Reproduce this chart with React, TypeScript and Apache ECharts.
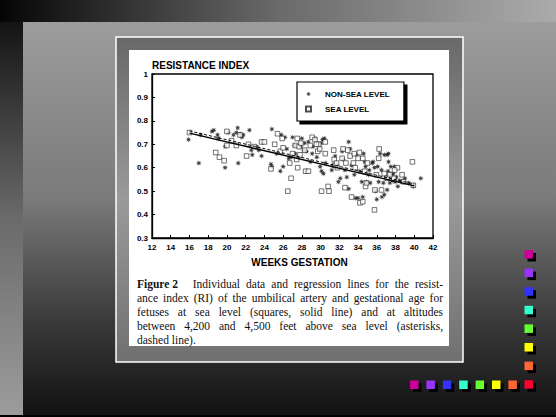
import { useEffect, useRef } from "react";
import * as echarts from "echarts";

// tick labels
const weekTicks = [12, 14, 16, 18, 20, 22, 24, 26, 28, 30, 32, 34, 36, 38, 40, 42];
const riTicks = [0.3, 0.4, 0.5, 0.6, 0.7, 0.8, 0.9, 1];

const legendNames = ["NON-SEA LEVEL", "SEA LEVEL"];

// [weeks, resistance index] - asterisks
const nonSeaLevel: [number, number][] = [
	[15.9, 0.72], [17.0, 0.62], [17.2, 0.74], [18.4, 0.755], [18.6, 0.76], [19.0, 0.74], [19.1, 0.725],
	[19.8, 0.6], [19.8, 0.69], [20.15, 0.75], [20.7, 0.74], [21.0, 0.75], [21.15, 0.77], [21.2, 0.62],
	[21.4, 0.745], [21.6, 0.73], [21.75, 0.74], [22.4, 0.76], [22.6, 0.675], [22.7, 0.655], [23.2, 0.69],
	[23.4, 0.675], [23.7, 0.65], [24.8, 0.765], [24.7, 0.615], [24.8, 0.605], [25.3, 0.66], [25.7, 0.585],
	[25.8, 0.74], [26.0, 0.605], [26.2, 0.73], [26.4, 0.68], [26.6, 0.64], [26.85, 0.645], [27.0, 0.73],
	[27.2, 0.695], [27.3, 0.66], [27.6, 0.645], [27.9, 0.69], [28.0, 0.725], [28.2, 0.675], [28.3, 0.705],
	[28.5, 0.67], [28.7, 0.71], [28.9, 0.625], [29.1, 0.66], [29.2, 0.69], [29.4, 0.725], [29.6, 0.645],
	[29.8, 0.675], [30.05, 0.705], [30.2, 0.72], [30.4, 0.725], [30.1, 0.585], [30.3, 0.575], [30.5, 0.62],
	[31.2, 0.59], [31.55, 0.65], [31.9, 0.54], [32.1, 0.555], [32.3, 0.67], [32.4, 0.635], [32.6, 0.59],
	[32.8, 0.56], [33.0, 0.51], [33.15, 0.68], [33.3, 0.61], [33.6, 0.57], [33.75, 0.47], [33.85, 0.655],
	[34.0, 0.47], [34.2, 0.585], [34.4, 0.54], [34.5, 0.475], [34.7, 0.625], [34.8, 0.605], [34.9, 0.54],
	[35.1, 0.57], [35.2, 0.59], [35.3, 0.535], [35.5, 0.62], [35.6, 0.625], [35.75, 0.6], [35.9, 0.5],
	[36.0, 0.465], [36.1, 0.605], [36.2, 0.54], [36.35, 0.66], [36.5, 0.59], [36.55, 0.475], [36.7, 0.535],
	[36.8, 0.485], [36.95, 0.56], [37.1, 0.655], [37.1, 0.505], [37.2, 0.585], [37.25, 0.625], [37.3, 0.56],
	[37.4, 0.535], [37.5, 0.605], [37.6, 0.57], [37.65, 0.545], [37.75, 0.575], [37.9, 0.605], [37.95, 0.54],
	[38.1, 0.56], [38.25, 0.52], [38.4, 0.545], [38.7, 0.54], [39.0, 0.555], [39.4, 0.535], [39.9, 0.52],
	[40.7, 0.555], [36.8, 0.655], [34.6, 0.66], [33.0, 0.71], [37.25, 0.66], [31.3, 0.61], [29.95, 0.605],
];

// squares
const seaLevel: [number, number][] = [
	[16.0, 0.75], [18.8, 0.665], [19.2, 0.645], [19.7, 0.63], [20.0, 0.755], [20.0, 0.695], [20.5, 0.715],
	[21.0, 0.695], [21.4, 0.74], [22.1, 0.65], [22.3, 0.7], [22.9, 0.69], [23.7, 0.71], [24.0, 0.71],
	[24.7, 0.595], [25.1, 0.7], [25.4, 0.745], [25.7, 0.67], [25.9, 0.725], [26.0, 0.685], [26.5, 0.5],
	[26.7, 0.62], [26.85, 0.555], [27.0, 0.66], [27.3, 0.695], [27.5, 0.725], [27.7, 0.69], [27.45, 0.635],
	[27.55, 0.6], [27.8, 0.655], [28.3, 0.675], [28.4, 0.585], [28.7, 0.585], [28.9, 0.695], [29.1, 0.73],
	[29.4, 0.72], [29.7, 0.67], [29.8, 0.7], [29.9, 0.68], [30.1, 0.5], [30.5, 0.66], [30.8, 0.52],
	[30.9, 0.5], [31.4, 0.675], [31.45, 0.635], [31.55, 0.61], [31.7, 0.62], [31.8, 0.6], [32.4, 0.68],
	[32.6, 0.515], [32.7, 0.62], [32.9, 0.675], [33.15, 0.65], [33.3, 0.475], [33.5, 0.62], [33.7, 0.6],
	[33.6, 0.66], [34.0, 0.64], [34.15, 0.665], [34.2, 0.45], [34.5, 0.455], [34.5, 0.64], [34.7, 0.585],
	[34.8, 0.52], [34.9, 0.535], [35.0, 0.62], [35.75, 0.42], [35.8, 0.505], [35.95, 0.57], [36.2, 0.64],
	[36.25, 0.68], [36.5, 0.505], [36.8, 0.575], [37.8, 0.555], [38.2, 0.6], [38.7, 0.57], [38.85, 0.54],
	[39.8, 0.625], [39.9, 0.525], [29.55, 0.7], [27.9, 0.705], [30.5, 0.71], [32.3, 0.64], [37.1, 0.555],
	[37.4, 0.57], [37.9, 0.59],
];

// regression lines (end points)
const seaLevelFit: [number, number][] = [[16, 0.748], [40, 0.522]];
const nonSeaLevelFit: [number, number][] = [[16, 0.757], [40, 0.53]];

const captionLines = [
	"Individual data and regression lines for the resist-",
	"ance index (RI) of the umbilical artery and gestational age for",
	"fetuses at sea level (squares, solid line) and at altitudes",
	"between 4,200 and 4,500 feet above sea level (asterisks,",
	"dashed line).",
];
const figureLabel = "Figure 2";

const swatchColors = ["#cc0099", "#9933ff", "#3333ff", "#33ffcc", "#66ff33", "#ffff00", "#ff6633", "#ff0033"];

const CAP_FONT = "Liberation Serif";
const CAP_SIZE = 11.5;

// 8 armed star used as asterisk marker
const asterisk = (() => {
	const pts: string[] = [];
	for (let i = 0; i < 16; i++) {
		const a = (Math.PI / 8) * i;
		const r = i % 2 === 0 ? 10 : 4;
		pts.push(`${(10 + r * Math.sin(a)).toFixed(2)} ${(10 - r * Math.cos(a)).toFixed(2)}`);
	}
	return "path://M" + pts.join(" L") + " Z";
})();

const buildCaption = () => {
	const ctx = document.createElement("canvas").getContext("2d")!;
	const measure = (s: string, bold: boolean) => {
		ctx.font = `${bold ? "bold " : ""}${CAP_SIZE}px "${CAP_FONT}"`;
		return ctx.measureText(s).width;
	};
	const left = 137;
	const right = 443;
	const top = 284;
	const gap = 14.1;
	const els: any[] = [];
	captionLines.forEach((line, li) => {
		const tokens = line.split(" ").map((t) => ({ t, bold: false, w: 0 }));
		if (li === 0) tokens.unshift({ t: figureLabel, bold: true, w: 0 });
		tokens.forEach((tk) => (tk.w = measure(tk.t, tk.bold)));
		const weights = tokens.slice(1).map((_, i) => (li === 0 && i === 0 ? 2.4 : 1));
		const sumW = tokens.reduce((s, tk) => s + tk.w, 0);
		const sumWeights = weights.reduce((s, v) => s + v, 0);
		const last = li === captionLines.length - 1;
		const unit = last ? measure(" ", false) : (right - left - sumW) / sumWeights;
		let x = left;
		tokens.forEach((tk, i) => {
			els.push({
				type: "text",
				x,
				y: top + li * gap,
				z: 10,
				style: {
					text: tk.t,
					fill: "#111",
					fontSize: CAP_SIZE,
					fontFamily: CAP_FONT,
					fontWeight: tk.bold ? "bold" : "normal",
					verticalAlign: "middle",
				},
			});
			x += tk.w + (i < weights.length ? weights[i] * unit : 0);
		});
	});
	return els;
};

const buildSwatches = () => {
	const els: any[] = [];
	const size = 8.5;
	const put = (x: number, y: number, color: string) => {
		els.push({ type: "rect", z: 1, shape: { x: x + 3, y: y + 3, width: size, height: size }, style: { fill: "#000" } });
		els.push({ type: "rect", z: 2, shape: { x, y, width: size, height: size }, style: { fill: color } });
	};
	swatchColors.forEach((c, i) => put(524.5, 250 + i * 18.6, c));
	swatchColors.slice(0, -1).forEach((c, i) => put(410 + i * 16.4, 380.5, c));
	return els;
};

const App: React.FC = () => {
	const chartRef = useRef<HTMLDivElement>(null);

	useEffect(() => {
		document.body.style.margin = "0";
		if (!chartRef.current) return;
		const chart = echarts.init(chartRef.current, undefined, { renderer: "svg" });

		const background = [
			{ type: "rect", z: -20, shape: { x: 0, y: 0, width: 556, height: 417 }, style: { fill: "#000" } },
			{
				type: "rect", z: -19, shape: { x: 0, y: 0, width: 556, height: 22 },
				style: { fill: new echarts.graphic.LinearGradient(0, 0, 1, 0, [{ offset: 0, color: "#050505" }, { offset: 0.5, color: "#6a6a6a" }, { offset: 1, color: "#ababab" }]) },
			},
			{
				type: "rect", z: -19, shape: { x: 0, y: 22, width: 23, height: 393 },
				style: { fill: new echarts.graphic.LinearGradient(0, 0, 0, 1, [{ offset: 0, color: "#141414" }, { offset: 0.5, color: "#6a6a6a" }, { offset: 1, color: "#9c9c9c" }]) },
			},
			{
				type: "rect", z: -19, shape: { x: 23, y: 22, width: 533, height: 393 },
				style: { fill: new echarts.graphic.LinearGradient(0, 0, 0, 1, [{ offset: 0, color: "#9c9c9c" }, { offset: 0.45, color: "#7a7a7a" }, { offset: 0.75, color: "#3c3c3c" }, { offset: 1, color: "#121212" }]) },
			},
			{
				type: "rect", z: -18, shape: { x: 116, y: 37, width: 347, height: 325 },
				style: {
					fill: new echarts.graphic.LinearGradient(0, 0, 0, 1, [{ offset: 0, color: "#686868" }, { offset: 0.5, color: "#9a9a9a" }, { offset: 1, color: "#707070" }]),
					stroke: "#fff", lineWidth: 1.5,
				},
			},
			{ type: "rect", z: -17, shape: { x: 129, y: 50, width: 320, height: 296 }, style: { fill: "#fff" } },
		];

		const option = {
			animation: false,
			textStyle: { fontFamily: "Liberation Sans" },
			graphic: { elements: [...background, ...buildSwatches(), ...buildCaption()] },
			legend: {
				data: legendNames,
				orient: "vertical",
				left: 297,
				top: 82,
				backgroundColor: "#fff",
				borderColor: "#000",
				borderWidth: 1.2,
				shadowColor: "#000",
				shadowOffsetX: 3,
				shadowOffsetY: 3,
				shadowBlur: 0,
				padding: [8, 14, 8, 8],
				itemGap: 7,
				itemWidth: 5,
				itemHeight: 5,
				selectedMode: false,
				textStyle: { fontSize: 8, fontWeight: "bold", color: "#000", padding: [0, 0, 0, 9] },
			},
			grid: {
				left: 152, top: 74, width: 281, height: 164,
				show: true, borderColor: "#000", borderWidth: 1.3, backgroundColor: "transparent",
			},
			xAxis: {
				type: "value",
				min: weekTicks[0],
				max: weekTicks[weekTicks.length - 1],
				interval: weekTicks[1] - weekTicks[0],
				name: "WEEKS GESTATION",
				nameLocation: "middle",
				nameGap: 19,
				nameTextStyle: { fontSize: 10, fontWeight: "bold", color: "#000", padding: [0, 0, 0, 14], verticalAlign: "top" },
				axisLine: { lineStyle: { color: "#000", width: 1.3 } },
				axisTick: { inside: true, length: 3, lineStyle: { color: "#000" } },
				axisLabel: { fontSize: 8, fontWeight: "bold", color: "#000", margin: 5 },
				splitLine: { show: false },
			},
			yAxis: {
				type: "value",
				min: riTicks[0],
				max: riTicks[riTicks.length - 1],
				interval: 0.1,
				name: "RESISTANCE INDEX",
				nameLocation: "end",
				nameGap: 3,
				nameTextStyle: { fontSize: 10, fontWeight: "bold", color: "#000", align: "left" },
				axisLine: { lineStyle: { color: "#000", width: 1.3 } },
				axisTick: { inside: true, length: 3, lineStyle: { color: "#000" } },
				axisLabel: { fontSize: 8, fontWeight: "bold", color: "#000", margin: 4 },
				splitLine: { show: false },
			},
			series: [
				{
					name: legendNames[0],
					type: "scatter",
					data: nonSeaLevel,
					symbol: asterisk,
					symbolSize: 6,
					itemStyle: { color: "#111" },
				},
				{
					name: legendNames[1],
					type: "scatter",
					data: seaLevel,
					symbol: "rect",
					symbolSize: 4.6,
					itemStyle: { color: "#fff", borderColor: "#222", borderWidth: 0.8 },
				},
				{
					type: "line",
					data: seaLevelFit,
					symbol: "none",
					lineStyle: { color: "#000", width: 1.3 },
					z: 3,
				},
				{
					type: "line",
					data: nonSeaLevelFit,
					symbol: "none",
					lineStyle: { color: "#000", width: 1, type: [3, 2] },
					z: 3,
				},
			],
		};

		chart.setOption(option as any);

		return () => {
			chart.dispose();
		};
	}, []);

	return <div ref={chartRef} style={{ width: "556px", height: "417px" }} />;
};

export default App;
